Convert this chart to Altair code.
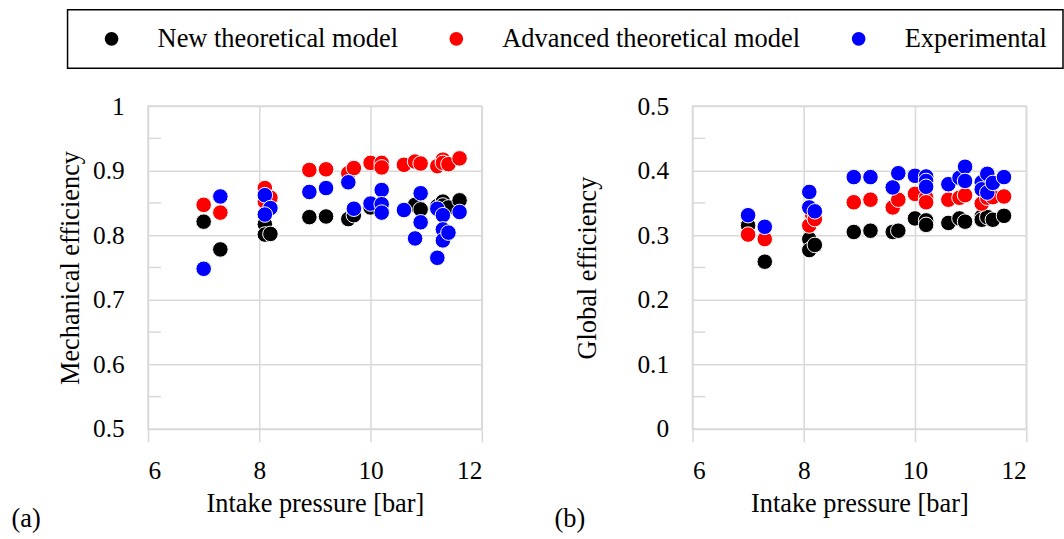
import altair as alt
import pandas as pd

SERIES = ["New theoretical model", "Advanced theoretical model", "Experimental"]
COLORS = ["#000000", "#ff0000", "#0000ff"]
FONT = "Liberation Serif"
GRID = "#d9d9d9"

# ---- Panel (a): mechanical efficiency ----
new_a_x = [7.0, 7.3, 8.1, 8.1, 8.2, 8.9, 9.2, 9.6, 9.7, 10.0, 10.8, 10.9, 11.2, 11.3, 11.3, 11.4, 11.6]
new_a_y = [0.821, 0.778, 0.817, 0.801, 0.802, 0.828, 0.829, 0.825, 0.831, 0.843, 0.847, 0.840, 0.845, 0.852, 0.846, 0.843, 0.854]
adv_a_x = [7.0, 7.3, 8.1, 8.1, 8.2, 8.9, 9.2, 9.6, 9.7, 10.0, 10.2, 10.2, 10.6, 10.8, 10.9, 11.2, 11.3, 11.3, 11.4, 11.6]
adv_a_y = [0.847, 0.835, 0.873, 0.852, 0.858, 0.901, 0.902, 0.896, 0.904, 0.912, 0.912, 0.905, 0.909, 0.914, 0.911, 0.907, 0.917, 0.912, 0.910, 0.919]
exp_a_x = [7.0, 7.3, 8.1, 8.2, 8.1, 8.9, 9.2, 9.6, 9.7, 10.0, 10.2, 10.2, 10.2, 10.6, 10.8, 10.9, 10.9, 11.2, 11.2, 11.3, 11.3, 11.3, 11.4, 11.6]
exp_a_y = [0.748, 0.860, 0.862, 0.842, 0.832, 0.867, 0.873, 0.882, 0.841, 0.849, 0.870, 0.848, 0.835, 0.839, 0.795, 0.865, 0.820, 0.841, 0.765, 0.831, 0.809, 0.792, 0.804, 0.836]

# ---- Panel (b): global efficiency ----
new_b_x = [7.0, 7.3, 8.1, 8.1, 8.2, 8.9, 9.2, 9.6, 9.7, 10.0, 10.2, 10.2, 10.6, 10.8, 10.9, 11.2, 11.2, 11.3, 11.4, 11.6]
new_b_y = [0.315, 0.259, 0.294, 0.277, 0.285, 0.305, 0.307, 0.305, 0.307, 0.326, 0.323, 0.316, 0.319, 0.326, 0.321, 0.329, 0.324, 0.328, 0.324, 0.330]
adv_b_x = [7.0, 7.3, 8.1, 8.15, 8.2, 8.9, 9.2, 9.6, 9.7, 10.0, 10.2, 10.2, 10.6, 10.8, 10.9, 11.2, 11.3, 11.4, 11.6]
adv_b_y = [0.301, 0.294, 0.315, 0.333, 0.325, 0.351, 0.355, 0.343, 0.355, 0.364, 0.358, 0.351, 0.355, 0.358, 0.362, 0.349, 0.358, 0.359, 0.360]
exp_b_x = [7.0, 7.3, 8.1, 8.1, 8.2, 8.9, 9.2, 9.6, 9.7, 10.0, 10.2, 10.2, 10.2, 10.6, 10.8, 10.9, 10.9, 11.2, 11.2, 11.3, 11.3, 11.4, 11.6]
exp_b_y = [0.331, 0.313, 0.367, 0.343, 0.337, 0.390, 0.390, 0.374, 0.396, 0.392, 0.391, 0.384, 0.375, 0.379, 0.389, 0.406, 0.384, 0.382, 0.371, 0.395, 0.366, 0.381, 0.390]

x_ticks = [6, 8, 10, 12]
a_ticks = [0.5, 0.6, 0.7, 0.8, 0.9, 1.0]
a_minor = [0.55, 0.65, 0.75, 0.85, 0.95]
b_ticks = [0.0, 0.1, 0.2, 0.3, 0.4, 0.5]
b_minor = [0.05, 0.15, 0.25, 0.35, 0.45]


def build(groups):
    rows = []
    for order, (name, xs, ys) in enumerate(groups):
        for x, y in zip(xs, ys):
            rows.append({"p": x, "v": y, "s": name, "o": order})
    return pd.DataFrame(rows)


df_a = build([(SERIES[0], new_a_x, new_a_y), (SERIES[1], adv_a_x, adv_a_y), (SERIES[2], exp_a_x, exp_a_y)])
df_b = build([(SERIES[0], new_b_x, new_b_y), (SERIES[1], adv_b_x, adv_b_y), (SERIES[2], exp_b_x, exp_b_y)])


def panel(df, ytitle, ydomain, yticks, minor, label, title_pad, label_dx):
    yscale = alt.Scale(domain=ydomain, nice=False, zero=False)
    pts = alt.Chart(df).mark_circle(size=245, opacity=1, stroke="white", strokeWidth=1).encode(
        x=alt.X("p:Q", scale=alt.Scale(domain=[6, 12], nice=False, zero=False),
                axis=alt.Axis(values=x_ticks, title="Intake pressure [bar]", grid=True,
                              gridColor=GRID, gridWidth=1.5, domain=False, ticks=True,
                              tickSize=13, tickColor=GRID, tickWidth=1.5, labelPadding=17,
                              titlePadding=7)),
        y=alt.Y("v:Q", scale=yscale,
                axis=alt.Axis(values=yticks, format="~g", title=ytitle, grid=True,
                              gridColor=GRID, gridWidth=1.5, domain=False, ticks=False,
                              labelPadding=24, titlePadding=title_pad)),
        color=alt.Color("s:N", scale=alt.Scale(domain=SERIES, range=COLORS),
                        legend=alt.Legend(title=None, orient="none", legendX=-81, legendY=-97,
                                          direction="horizontal", strokeColor="black",
                                          padding=16, symbolOffset=15,
                                          labelOffset=33, columnPadding=30, symbolSize=190,
                                          symbolType="circle", symbolStrokeWidth=0,
                                          labelFont=FONT, labelFontSize=26.6, labelColor="black",
                                          labelLimit=0)),
        order=alt.Order("o:Q"),
    )
    mdf = pd.DataFrame({"v": minor})
    ticks = alt.Chart(mdf).mark_rule(color=GRID, strokeWidth=1.5).encode(
        y=alt.Y("v:Q", scale=yscale),
        x=alt.value(0), x2=alt.value(13),
    )
    return alt.layer(pts, ticks).properties(
        width=336, height=325,
        title=alt.TitleParams(label, orient="bottom", anchor="start", dx=label_dx, dy=-15,
                              font=FONT, fontSize=26.5, fontWeight="normal", color="black"),
    )


pa = panel(df_a, "Mechanical efficiency", [0.5, 1.0], a_ticks, a_minor, "(a)", 8, -46.5)
pb = panel(df_b, "Global efficiency", [0.0, 0.5], b_ticks, b_minor, "(b)", 36, -20)

chart = alt.hconcat(pa, pb, spacing=70).properties(
    padding={"left": 10, "top": 7, "right": 0, "bottom": 0},
    background="white",
).configure_view(stroke=GRID, strokeWidth=1.5).configure_axis(
    labelFont=FONT, labelFontSize=25.5, labelColor="black",
    titleFont=FONT, titleFontSize=26.5, titleFontWeight="normal", titleColor="black",
).configure_legend(strokeWidth=1.5)

chart.save("out.html", embed_options={"renderer": "svg", "actions": False})
